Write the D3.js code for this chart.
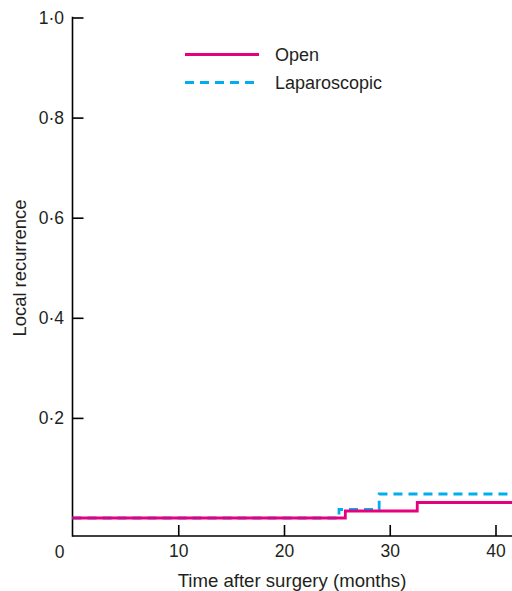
<!DOCTYPE html>
<html>
<head>
<meta charset="utf-8">
<script src="https://cdn.jsdelivr.net/npm/d3@7"></script>
<style>
  body { margin: 0; background: #fff; }
  svg text { font-family: "Liberation Sans", Arial, sans-serif; fill: #231f20; }
</style>
</head>
<body>
<div id="chart"></div>
<script>
// step data
var seriesNames = ["Open", "Laparoscopic"];
var openTimes = [0, 25.8, 32.6, 41.6];
var openValues = [0, 0.014, 0.031, 0.031];
var lapTimes = [0, 25.2, 29.0, 41.6];
var lapValues = [0, 0.017, 0.048, 0.048];
var xTicks = [10, 20, 30, 40];
var yTicks = [0.2, 0.4, 0.6, 0.8, 1.0];

var width = 512, height = 591;
var colors = ["#e6007e", "#00aeef"];

var svg = d3.select("#chart").append("svg")
    .attr("width", width)
    .attr("height", height);

var x = d3.scaleLinear().domain([0, 40]).range([72.5, 495.5]);
var y = d3.scaleLinear().domain([0, 1]).range([518, 17.5]);
var axisY = 536;

// x axis
var xAxis = d3.axisBottom(x)
    .tickValues(xTicks)
    .tickSizeInner(-11)
    .tickSizeOuter(0)
    .tickPadding(9)
    .tickFormat(d3.format("d"));

var gx = svg.append("g")
    .attr("transform", "translate(0," + axisY + ")")
    .call(xAxis);
gx.select(".domain").remove();
gx.append("line")
    .attr("x1", x(0)).attr("x2", width)
    .attr("stroke", "#000").attr("stroke-width", 1.6);
gx.selectAll(".tick line").attr("stroke", "#000").attr("stroke-width", 1.6);
gx.selectAll(".tick text").style("font-size", "17.5px").attr("fill", "#231f20");

svg.append("text")
    .attr("x", 59.5).attr("y", 557.5)
    .attr("text-anchor", "middle")
    .style("font-size", "17.5px")
    .text("0");

// y axis
var yAxis = d3.axisLeft(y)
    .tickValues(yTicks)
    .tickSizeInner(-11)
    .tickSizeOuter(0)
    .tickPadding(8.5)
    .tickFormat(function(d) { return d3.format(".1f")(d).replace(".", "\u00b7"); });

var gy = svg.append("g")
    .attr("transform", "translate(" + x(0) + ",0)")
    .call(yAxis);
gy.select(".domain").remove();
gy.append("line")
    .attr("y1", y(1) - 0.8).attr("y2", axisY + 0.8)
    .attr("stroke", "#000").attr("stroke-width", 1.6);
gy.selectAll(".tick line").attr("stroke", "#000").attr("stroke-width", 1.6);
gy.selectAll(".tick text").style("font-size", "17.5px").attr("fill", "#231f20");

// axis titles
svg.append("text")
    .attr("x", 292).attr("y", 586.5)
    .attr("text-anchor", "middle")
    .style("font-size", "18.6px")
    .text("Time after surgery (months)");

svg.append("text")
    .attr("transform", "translate(25.5,268) rotate(-90)")
    .attr("text-anchor", "middle")
    .style("font-size", "18.4px")
    .text("Local recurrence");

// step curves
function toPoints(times, values) {
  return times.map(function(t, i) { return [t, values[i]]; });
}

var line = d3.line()
    .x(function(d) { return x(d[0]); })
    .y(function(d) { return y(d[1]); })
    .curve(d3.curveStepAfter);

svg.append("path")
    .datum(toPoints(lapTimes, lapValues))
    .attr("d", line)
    .attr("fill", "none")
    .attr("stroke", colors[1])
    .attr("stroke-width", 2.8)
    .attr("stroke-dasharray", "9,6");

svg.append("path")
    .datum(toPoints(openTimes, openValues))
    .attr("d", line)
    .attr("fill", "none")
    .attr("stroke", colors[0])
    .attr("stroke-width", 2.8);

// legend
var legend = svg.selectAll(".legend")
    .data(seriesNames)
    .enter().append("g")
    .attr("class", "legend")
    .attr("transform", function(d, i) { return "translate(185," + (54.5 + i * 28) + ")"; });

legend.append("line")
    .attr("x1", 0).attr("x2", 74)
    .attr("stroke", function(d, i) { return colors[i]; })
    .attr("stroke-width", 2.8)
    .attr("stroke-dasharray", function(d, i) { return i === 1 ? "9,6" : null; });

legend.append("text")
    .attr("x", 90).attr("y", 6.5)
    .style("font-size", "18px")
    .text(function(d) { return d; });
</script>
</body>
</html>
